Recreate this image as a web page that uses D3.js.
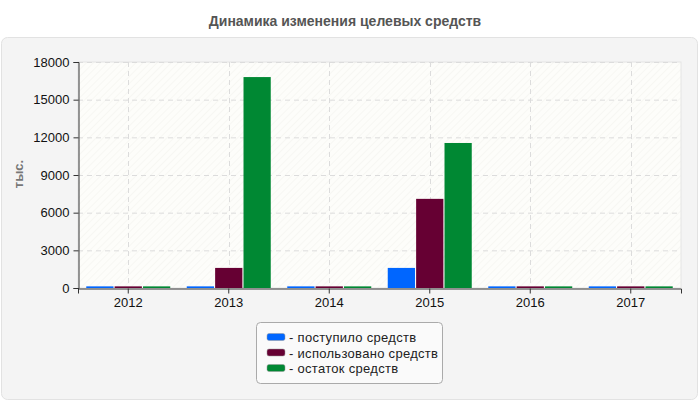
<!DOCTYPE html>
<html>
<head>
<meta charset="utf-8">
<script src="https://cdn.jsdelivr.net/npm/d3@7"></script>
<style>
  body { margin: 0; background: #fff; }
  svg text { font-family: "Liberation Sans", Arial, sans-serif; }
</style>
</head>
<body>
<div id="chart"></div>
<script>
// data
var years = ["2012", "2013", "2014", "2015", "2016", "2017"];
var seriesNames = ["- поступило средств", "- использовано средств", "- остаток средств"];
var received = [130, 130, 130, 1600, 130, 130];
var used = [130, 1600, 130, 7100, 130, 130];
var remaining = [130, 16800, 130, 11550, 130, 130];
var yTicks = [0, 3000, 6000, 9000, 12000, 15000, 18000];
var colors = ["#0066ff", "#660033", "#008833"];

var width = 700, height = 400;
var margin = {top: 62, right: 19, bottom: 112, left: 78};

var svg = d3.select("#chart")
  .append("svg")
  .attr("width", width)
  .attr("height", height);

var defs = svg.append("defs");
var pat = defs.append("pattern")
  .attr("id", "hatch")
  .attr("patternUnits", "userSpaceOnUse")
  .attr("width", 5)
  .attr("height", 5)
  .attr("patternTransform", "rotate(45)");
pat.append("rect").attr("width", 5).attr("height", 5).attr("fill", "#fdfdfa");
pat.append("line")
  .attr("x1", 0).attr("y1", 0).attr("x2", 0).attr("y2", 5)
  .attr("stroke", "#f1f1ec").attr("stroke-width", 1);

// title
svg.append("text")
  .attr("x", 345)
  .attr("y", 26)
  .attr("text-anchor", "middle")
  .style("font-size", "14px")
  .style("font-weight", "bold")
  .style("fill", "#555")
  .text("Динамика изменения целевых средств");

// panel
svg.append("rect")
  .attr("x", 1.5).attr("y", 37.5)
  .attr("width", 696).attr("height", 362)
  .attr("rx", 6)
  .attr("fill", "#f4f4f4")
  .attr("stroke", "#e2e2e2");

var plotW = width - margin.left - margin.right;
var plotH = height - margin.top - margin.bottom;

var xScale = d3.scaleBand()
  .domain(years)
  .range([margin.left, margin.left + plotW]);

var xInner = d3.scaleBand()
  .domain([0, 1, 2])
  .range([0, 84])
  .paddingInner(0.04);

var yScale = d3.scaleLinear()
  .domain([0, 18000])
  .range([margin.top + plotH, margin.top]);

// plot background
svg.append("rect")
  .attr("x", margin.left).attr("y", margin.top)
  .attr("width", plotW).attr("height", plotH)
  .attr("fill", "url(#hatch)")
  .attr("stroke", "#e4e4e4");

// grid
svg.append("g")
  .attr("class", "grid")
  .selectAll("line")
  .data(yTicks.slice(1))
  .enter()
  .append("line")
  .attr("x1", margin.left).attr("x2", margin.left + plotW)
  .attr("y1", d => yScale(d) + 0.5).attr("y2", d => yScale(d) + 0.5)
  .attr("stroke", "#dcdcdc")
  .attr("stroke-dasharray", "5,4");

svg.append("g")
  .selectAll("line")
  .data(years)
  .enter()
  .append("line")
  .attr("x1", d => Math.round(xScale(d) + xScale.bandwidth() / 2) + 0.5)
  .attr("x2", d => Math.round(xScale(d) + xScale.bandwidth() / 2) + 0.5)
  .attr("y1", margin.top).attr("y2", margin.top + plotH)
  .attr("stroke", "#dcdcdc")
  .attr("stroke-dasharray", "5,4");

// bars
var table = years.map((y, i) => ({year: y, values: [received[i], used[i], remaining[i]]}));

var groups = svg.selectAll(".year")
  .data(table)
  .enter()
  .append("g")
  .attr("class", "year")
  .attr("transform", d => `translate(${xScale(d.year) + xScale.bandwidth() / 2 - 42},0)`);

groups.selectAll("rect")
  .data(d => d.values)
  .enter()
  .append("rect")
  .attr("x", (d, i) => xInner(i))
  .attr("width", xInner.bandwidth())
  .attr("y", d => yScale(d))
  .attr("height", d => yScale(0) - yScale(d))
  .attr("fill", (d, i) => colors[i]);

// Y axis
var yAxis = d3.axisLeft(yScale)
  .tickValues(yTicks)
  .tickFormat(d3.format("d"))
  .tickSizeOuter(0)
  .tickSize(5)
  .tickPadding(4);

svg.append("g")
  .attr("transform", `translate(${margin.left + 0.5},0)`)
  .attr("class", "y-axis")
  .call(yAxis)
  .style("color", "#333")
  .selectAll("text")
  .style("font-size", "13px")
  .style("fill", "#111");

// X axis
var xAxis = d3.axisBottom(xScale)
  .tickSizeOuter(0)
  .tickSize(5)
  .tickPadding(4);

svg.append("g")
  .attr("transform", `translate(0,${margin.top + plotH + 0.5})`)
  .attr("class", "x-axis")
  .call(xAxis)
  .style("color", "#333")
  .selectAll("text")
  .style("font-size", "13px")
  .style("fill", "#111");

svg.selectAll(".domain").attr("stroke", "#333");

// y label
svg.append("text")
  .attr("text-anchor", "middle")
  .attr("transform", `translate(23,174) rotate(-90)`)
  .style("font-size", "13px")
  .style("font-weight", "bold")
  .style("fill", "#777")
  .text("тыс.");

// legend
var legend = svg.append("g").attr("transform", "translate(256,322)");
legend.append("rect")
  .attr("x", 0.5).attr("y", 0.5)
  .attr("width", 186).attr("height", 61)
  .attr("rx", 4)
  .attr("fill", "#fafafa")
  .attr("stroke", "#aaa");

var items = legend.selectAll(".item")
  .data(seriesNames)
  .enter()
  .append("g")
  .attr("transform", (d, i) => `translate(11,${15 + i * 15.5})`);

items.append("rect")
  .attr("x", 0).attr("y", -3.5)
  .attr("width", 18).attr("height", 7)
  .attr("rx", 2)
  .attr("fill", (d, i) => colors[i])
  .attr("stroke", "#999")
  .attr("stroke-width", 0.5);

items.append("text")
  .attr("x", 22)
  .attr("y", 5)
  .style("font-size", "13px")
  .style("letter-spacing", "0.3px")
  .style("fill", "#222")
  .text(d => d);
</script>
</body>
</html>
